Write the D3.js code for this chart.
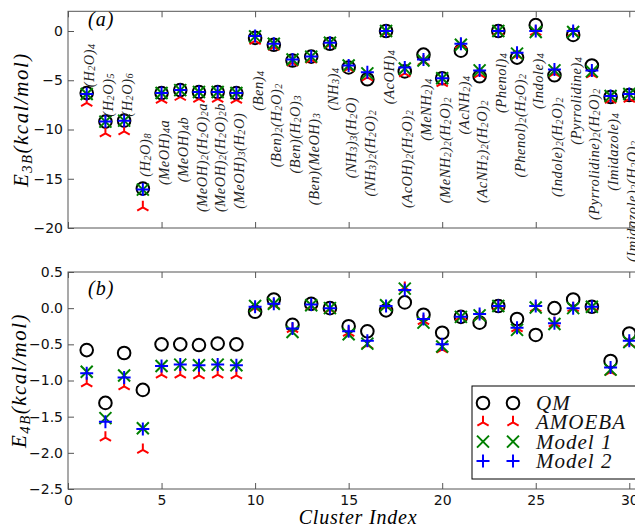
<!DOCTYPE html>
<html>
<head>
<meta charset="utf-8">
<script src="https://cdn.jsdelivr.net/npm/d3@7"></script>
<style>
  body { margin: 0; background: #fff; }
</style>
</head>
<body>
<div id="chart"></div>
<script>
// cluster names, index 1..30
const names = [
  "(H_2O)_4", "(H_2O)_5", "(H_2O)_6", "(H_2O)_8",
  "(MeOH)_4a", "(MeOH)_4b", "(MeOH)_2(H_2O)_2a", "(MeOH)_2(H_2O)_2b", "(MeOH)_3(H_2O)",
  "(Ben)_4", "(Ben)_2(H_2O)_2", "(Ben)(H_2O)_3", "(Ben)(MeOH)_3",
  "(NH_3)_4", "(NH_3)_3(H_2O)", "(NH_3)_2(H_2O)_2",
  "(AcOH)_4", "(AcOH)_2(H_2O)_2", "(MeNH_2)_4", "(MeNH_2)_2(H_2O)_2",
  "(AcNH_2)_4", "(AcNH_2)_2(H_2O)_2", "(Phenol)_4", "(Phenol)_2(H_2O)_2",
  "(Indole)_4", "(Indole)_2(H_2O)_2", "(Pyrrolidine)_4", "(Pyrrolidine)_2(H_2O)_2",
  "(Imidazole)_4", "(Imidazole)_2(H_2O)_2"
];

// three-body energies (kcal/mol)
const e3bQM     = [-6.3, -9.2, -9.1, -16.0, -6.3, -6.0, -6.2, -6.2, -6.3, -0.7, -1.4, -3.0, -2.6, -1.3, -3.7, -4.9, 0.0, -4.1, -2.4, -4.8, -2.0, -4.6, 0.0, -2.7, 0.6, -4.5, -0.4, -3.5, -6.7, -6.5];
const e3bAmoeba = [-7.3, -10.4, -10.2, -17.9, -7.0, -6.7, -6.9, -6.9, -7.0, -1.0, -1.6, -3.2, -2.9, -1.4, -3.8, -4.7, -0.2, -4.3, -3.1, -5.3, -1.4, -4.4, -0.1, -2.5, -0.1, -4.3, -0.2, -4.4, -7.0, -6.9];
const e3bModel1 = [-6.4, -9.2, -9.1, -16.1, -6.3, -6.0, -6.2, -6.2, -6.3, -0.55, -1.3, -2.9, -2.6, -1.2, -3.5, -4.3, 0.0, -3.8, -3.0, -4.8, -1.4, -4.0, 0.0, -2.3, -0.1, -4.0, -0.1, -4.1, -6.6, -6.4];
const e3bModel2 = [-6.4, -9.2, -9.1, -16.1, -6.3, -6.0, -6.2, -6.2, -6.3, -0.5, -1.3, -2.9, -2.6, -1.2, -3.5, -4.2, 0.0, -3.7, -2.9, -4.8, -1.3, -4.0, 0.0, -2.2, 0.0, -3.9, 0.0, -4.0, -6.6, -6.4];

// four-body energies (kcal/mol)
const e4bQM     = [-0.58, -1.31, -0.62, -1.13, -0.50, -0.50, -0.51, -0.49, -0.50, -0.05, 0.12, -0.23, 0.06, 0.0, -0.25, -0.32, -0.03, 0.08, -0.09, -0.34, -0.12, -0.20, 0.03, -0.15, -0.37, 0.0, 0.12, 0.02, -0.73, -0.35];
const e4bAmoeba = [-1.04, -1.79, -1.08, -1.96, -0.92, -0.92, -0.93, -0.92, -0.93, 0.0, 0.04, -0.29, 0.02, -0.02, -0.34, -0.51, 0.02, 0.28, -0.18, -0.57, -0.12, -0.12, 0.02, -0.28, 0.0, -0.21, 0.0, 0.01, -0.88, -0.49];
const e4bModel1 = [-0.88, -1.52, -0.93, -1.66, -0.80, -0.78, -0.79, -0.78, -0.79, 0.03, 0.06, -0.33, 0.04, 0.0, -0.36, -0.49, 0.04, 0.27, -0.20, -0.53, -0.12, -0.10, 0.03, -0.30, 0.01, -0.22, 0.0, 0.02, -0.85, -0.47];
const e4bModel2 = [-0.90, -1.57, -0.96, -1.67, -0.80, -0.78, -0.79, -0.78, -0.79, 0.02, 0.06, -0.28, 0.05, 0.0, -0.32, -0.45, 0.03, 0.25, -0.15, -0.50, -0.12, -0.08, 0.03, -0.27, 0.03, -0.21, 0.0, 0.02, -0.82, -0.45];

// where each name sits in panel (a), in kcal/mol (bottom end for the first four, top end for the rest)
const labelY = [-5.7, -8.7, -8.7, -14.8, -9.0, -8.7, -7.3, -7.3, -8.3, -4.0, -5.3, -6.5, -8.3, -3.7, -6.7, -8.0, -1.9, -8.0, -4.8, -6.7, -4.5, -7.0, -2.2, -4.3, -2.2, -6.7, -2.6, -5.8, -8.3, -11.1];
const labelAbove = 4;

const xTicks = [0, 5, 10, 15, 20, 25, 30];
const e3bTicks = [0, -5, -10, -15, -20];
const e4bTicks = [0.5, 0, -0.5, -1, -1.5, -2, -2.5];

const legendNames = ["QM", "AMOEBA", "Model 1", "Model 2"];

const width = 635, height = 530;
const serif = "'Liberation Serif', 'DejaVu Serif', serif";
const sans = "'DejaVu Sans', sans-serif";
const frame = "#555";

const svg = d3.select("#chart").append("svg")
  .attr("width", width)
  .attr("height", height)
  .style("font-family", sans);

const x = d3.scaleLinear().domain([0, 31]).range([68, 648]);
const yTop = d3.scaleLinear().domain([-20, 2]).range([228, 11.3]);
const yBot = d3.scaleLinear().domain([-2.5, 0.5]).range([489, 272]);

// write "_x" or "_{xy}" as subscript tspans
function rich(text, str, size) {
  const re = /_\{([^}]*)\}|_(.)|([^_]+)/g;
  let m;
  while ((m = re.exec(str)) !== null) {
    if (m[3]) {
      text.append("tspan").text(m[3]).attr("font-size", size);
    } else {
      const sub = m[1] !== undefined ? m[1] : m[2];
      text.append("tspan").text(sub)
        .attr("font-size", size * 0.7)
        .attr("baseline-shift", "-25%");
    }
  }
}

function marker(g, kind, cx, cy) {
  if (kind === "qm") {
    g.append("circle").attr("cx", cx).attr("cy", cy).attr("r", 6.3)
      .attr("fill", "none").attr("stroke", "#000").attr("stroke-width", 2);
  } else if (kind === "amoeba") {
    const r = 6.5;
    g.append("path")
      .attr("d", `M${cx},${cy}V${cy - r}M${cx},${cy}L${cx - 0.866 * r},${cy + 0.5 * r}M${cx},${cy}L${cx + 0.866 * r},${cy + 0.5 * r}`)
      .attr("stroke", "#ff0000").attr("stroke-width", 2).attr("fill", "none");
  } else if (kind === "m1") {
    const r = 6;
    g.append("path")
      .attr("d", `M${cx - r},${cy - r}L${cx + r},${cy + r}M${cx - r},${cy + r}L${cx + r},${cy - r}`)
      .attr("stroke", "#008000").attr("stroke-width", 2).attr("fill", "none");
  } else {
    const r = 6.5;
    g.append("path")
      .attr("d", `M${cx - r},${cy}H${cx + r}M${cx},${cy - r}V${cy + r}`)
      .attr("stroke", "#0000ff").attr("stroke-width", 2).attr("fill", "none");
  }
}

function panel(y, ticks, fmt, series) {
  const g = svg.append("g");
  const [top, bottom] = [y.range()[1], y.range()[0]];

  // markers, QM first so the models sit on top
  const kinds = ["qm", "amoeba", "m1", "m2"];
  series.forEach((vals, k) => {
    const mg = g.append("g");
    vals.forEach((v, i) => marker(mg, kinds[k], x(i + 1), y(v)));
  });

  // frame
  g.append("rect")
    .attr("x", x(0)).attr("y", top)
    .attr("width", x(31) - x(0)).attr("height", bottom - top)
    .attr("fill", "none").attr("stroke", frame).attr("stroke-width", 1);

  const left = g.append("g").attr("transform", `translate(${x(0)},0)`)
    .call(d3.axisLeft(y).tickValues(ticks).tickFormat(fmt).tickSize(-6).tickPadding(5));
  const right = g.append("g").attr("transform", `translate(${x(31)},0)`)
    .call(d3.axisRight(y).tickValues(ticks).tickFormat("").tickSize(-6));
  const bot = g.append("g").attr("transform", `translate(0,${bottom})`)
    .call(d3.axisBottom(x).tickValues(xTicks).tickFormat(d3.format("d")).tickSize(-6).tickPadding(6));
  const topAx = g.append("g").attr("transform", `translate(0,${top})`)
    .call(d3.axisTop(x).tickValues(xTicks).tickFormat("").tickSize(-6));

  [left, right, bot, topAx].forEach(a => {
    a.select(".domain").remove();
    a.selectAll(".tick line").attr("stroke", frame);
    a.selectAll("text").attr("font-family", sans).attr("font-size", 14).attr("fill", "#111");
  });
  return { g, bot };
}

// panel (a)
const a = panel(yTop, e3bTicks, d3.format("d"), [e3bQM, e3bAmoeba, e3bModel1, e3bModel2]);
a.bot.selectAll("text").remove();

// cluster names
names.forEach((n, i) => {
  const t = a.g.append("text")
    .attr("transform", `translate(${x(i + 1.14)},${yTop(labelY[i])}) rotate(-90)`)
    .attr("text-anchor", i < labelAbove ? "start" : "end")
    .attr("dominant-baseline", "central")
    .attr("font-family", serif)
    .attr("font-style", "italic")
    .attr("letter-spacing", 0.5)
    .attr("fill", "#222");
  rich(t, n, 14.5);
});

a.g.append("text").attr("x", 88).attr("y", 26)
  .attr("font-family", serif).attr("font-style", "italic").attr("font-size", 20)
  .attr("letter-spacing", 1)
  .text("(a)");

// panel (b)
const b = panel(yBot, e4bTicks, d3.format(".1f"), [e4bQM, e4bAmoeba, e4bModel1, e4bModel2]);

b.g.append("text").attr("x", 88).attr("y", 295)
  .attr("font-family", serif).attr("font-style", "italic").attr("font-size", 20)
  .attr("letter-spacing", 1)
  .text("(b)");

// axis titles
const yl1 = svg.append("text")
  .attr("transform", `translate(28,${(yTop.range()[0] + yTop.range()[1]) / 2}) rotate(-90)`)
  .attr("text-anchor", "middle")
  .attr("letter-spacing", 1.5)
  .attr("font-family", serif).attr("font-style", "italic");
rich(yl1, "E_{3B}(kcal/mol)", 21);

const yl2 = svg.append("text")
  .attr("transform", `translate(26,${(yBot.range()[0] + yBot.range()[1]) / 2}) rotate(-90)`)
  .attr("text-anchor", "middle")
  .attr("letter-spacing", 1.5)
  .attr("font-family", serif).attr("font-style", "italic");
rich(yl2, "E_{4B}(kcal/mol)", 21);

svg.append("text")
  .attr("x", (x(0) + x(31)) / 2).attr("y", 524)
  .attr("text-anchor", "middle")
  .attr("letter-spacing", 0.8)
  .attr("font-family", serif).attr("font-style", "italic").attr("font-size", 20)
  .text("Cluster Index");

// legend
const lg = svg.append("g");
lg.append("rect").attr("x", 472).attr("y", 386).attr("width", 200).attr("height", 93)
  .attr("fill", "#fff").attr("stroke", "#000").attr("stroke-width", 1);
const legendKinds = ["qm", "amoeba", "m1", "m2"];
legendNames.forEach((n, i) => {
  const ly = 403 + i * 19.3;
  marker(lg, legendKinds[i], 483, ly);
  marker(lg, legendKinds[i], 513, ly);
  lg.append("text").attr("x", 536).attr("y", ly + 7)
    .attr("font-family", serif).attr("font-style", "italic").attr("font-size", 21)
    .attr("letter-spacing", 1)
    .attr("fill", "#111")
    .text(n);
});
</script>
</body>
</html>
